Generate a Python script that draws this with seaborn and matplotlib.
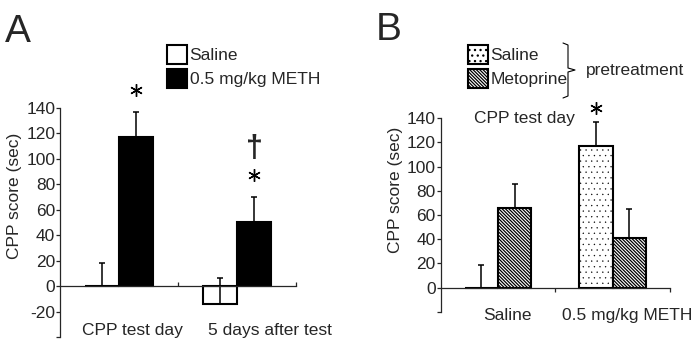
import matplotlib.pyplot as plt
import numpy as np
import pandas as pd
import seaborn as sns
from matplotlib import transforms
from matplotlib.lines import Line2D
from matplotlib.transforms import ScaledTranslation

# panel A: CPP score by test day
days_a = ["CPP test day", "5 days after test"]
drugs_a = ["Saline", "0.5 mg/kg METH"]
score_a_saline = [0, -14]
score_a_meth = [117, 50]
sem_a_saline = [18, 20]
sem_a_meth = [19.5, 20]
yticks_a = [-40, -20, 0, 20, 40, 60, 80, 100, 120, 140]

# panel B: CPP test day, by pretreatment
drugs_b = ["Saline", "0.5 mg/kg METH"]
pretreat_b = ["Saline", "Metoprine"]
score_b_saline = [0, 117]
score_b_meto = [66, 41]
sem_b_saline = [18.5, 20]
sem_b_meto = [19.5, 24]
yticks_b = [-20, 0, 20, 40, 60, 80, 100, 120, 140]

FS = 12.5

sns.set_style("ticks")
plt.rcParams["font.family"] = ["Liberation Sans", "DejaVu Sans"]
plt.rcParams["hatch.color"] = "black"
plt.rcParams["hatch.linewidth"] = 0.9
plt.rcParams["axes.linewidth"] = 0.9

W, H = 700, 351
fig = plt.figure(figsize=(7, 3.51), dpi=100)


def fx(px):
    return px / W


def fy(py):
    return 1 - py / H


def add_errbars(ax, errs):
    conts = list(ax.containers)
    for cont, err in zip(conts, errs):
        for bar, e in zip(cont, err):
            x = bar.get_x() + bar.get_width() / 2
            y = bar.get_y() + bar.get_height()
            ax.errorbar(x, y, yerr=[[0], [e]], fmt="none", ecolor="black",
                        elinewidth=1.1, capsize=2.5, capthick=1.1, zorder=1)
    return conts


def star(ax, x, y, dy):
    tr = transforms.offset_copy(ax.transData, fig=fig, x=0, y=dy, units="dots")
    ax.plot([x], [y], marker=(6, 2, 0), markersize=9, mew=1.0, color="black",
            transform=tr, clip_on=False)


def style_axis(ax, yticks, xlabels, xoffs, pad, xtick_dir):
    sns.despine(ax=ax)
    ax.spines["bottom"].set_position(("data", 0))
    ax.set_xlim(-0.5, 1.5)
    ax.set_ylim(yticks[0], yticks[-1])
    ax.set_yticks(yticks)
    ax.set_yticklabels([""] + [str(t) for t in yticks[1:]], fontsize=FS)
    ax.tick_params(axis="y", direction="out", length=3, width=0.9, pad=0.5)
    ax.set_xticks([0.5, 1.5])
    ax.set_xticklabels([])
    ax.tick_params(axis="x", which="major", direction=xtick_dir, length=3, width=0.9)
    ax.set_xticks([0, 1], minor=True)
    ax.set_xticklabels(xlabels, minor=True, fontsize=FS)
    ax.tick_params(axis="x", which="minor", length=0, pad=pad)
    for lab, off in zip(ax.get_xticklabels(minor=True), xoffs):
        lab.set_transform(lab.get_transform() + ScaledTranslation(off / 100, 0, fig.dpi_scale_trans))
    ax.set_xlabel("")
    ax.set_ylabel("CPP score (sec)", fontsize=FS)


def legend_at(handles, labels, px, py):
    fig.legend(handles, labels, loc="upper left", bbox_to_anchor=(fx(px), fy(py)),
               frameon=False, borderpad=0, borderaxespad=0, handlelength=1.15,
               handleheight=1.27, handletextpad=0.15, labelspacing=0.33, fontsize=FS)


# ---- panel A ----
ax_a = fig.add_axes([fx(60), fy(337), fx(296) - fx(60), (337 - 108) / H])
df_a = pd.DataFrame({
    "day": days_a * 2,
    "drug": [drugs_a[0]] * 2 + [drugs_a[1]] * 2,
    "score": score_a_saline + score_a_meth,
})
sns.barplot(data=df_a, x="day", y="score", hue="drug", order=days_a, hue_order=drugs_a,
            palette=["white", "black"], saturation=1, edgecolor="black", linewidth=1.5,
            width=0.58, errorbar=None, legend=False, ax=ax_a)
conts_a = add_errbars(ax_a, [sem_a_saline, sem_a_meth])
style_axis(ax_a, yticks_a, days_a, [13, 33], 26.5, "in")
ax_a.yaxis.set_label_coords(-0.16, 0.616)

# significance marks
b = conts_a[1][0]
star(ax_a, b.get_x() + b.get_width() / 2, score_a_meth[0] + sem_a_meth[0], 22)
b = conts_a[1][1]
star(ax_a, b.get_x() + b.get_width() / 2, score_a_meth[1] + sem_a_meth[1], 22)
ax_a.annotate("\u2020", xy=(b.get_x() + b.get_width() / 2, score_a_meth[1] + sem_a_meth[1]),
              xytext=(0, 48), textcoords="offset pixels", ha="center", va="center",
              fontsize=22, fontweight="bold", annotation_clip=False)

legend_at([conts_a[0][0], conts_a[1][0]], drugs_a, 167, 45)

# ---- panel B ----
ax_b = fig.add_axes([fx(440.7), fy(311.7), fx(670) - fx(440.7), (311.7 - 118.3) / H])
df_b = pd.DataFrame({
    "drug": drugs_b * 2,
    "pre": [pretreat_b[0]] * 2 + [pretreat_b[1]] * 2,
    "score": score_b_saline + score_b_meto,
})
sns.barplot(data=df_b, x="drug", y="score", hue="pre", order=drugs_b, hue_order=pretreat_b,
            palette=["white", "white"], saturation=1, edgecolor="black", linewidth=1.5,
            width=0.58, errorbar=None, legend=False, ax=ax_b)
for bar in ax_b.containers[0]:
    bar.set_hatch("...")
    if hasattr(bar, "set_hatch_linewidth"):
        bar.set_hatch_linewidth(0.2)
for bar in ax_b.containers[1]:
    bar.set_hatch("\\" * 10)
conts_b = add_errbars(ax_b, [sem_b_saline, sem_b_meto])
style_axis(ax_b, yticks_b, drugs_b, [9, 15], 15, "out")
ax_b.yaxis.set_label_coords(-0.165, 0.629)

b = conts_b[0][1]
star(ax_b, b.get_x() + b.get_width() / 2, score_b_saline[1] + sem_b_saline[1], 14)

legend_at([conts_b[0][0], conts_b[1][0]], pretreat_b, 468, 45)

# brace + labels
bx = [563, 568, 568, 575, 568, 568, 563]
by = [43, 45, 68, 70, 72, 96, 98]
fig.add_artist(Line2D([fx(v) for v in bx], [fy(v) for v in by], color="black", lw=0.8))
fig.text(fx(586), fy(70), "pretreatment", fontsize=FS, va="center")
fig.text(fx(474), fy(118), "CPP test day", fontsize=FS, va="center")

fig.text(fx(5), fy(42), "A", fontsize=28, va="baseline")
fig.text(fx(376), fy(40), "B", fontsize=28, va="baseline")

fig.savefig("out.png", dpi=100)
